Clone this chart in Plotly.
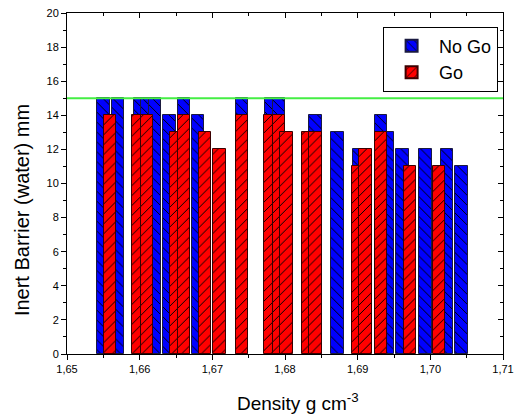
import plotly.graph_objects as go

# Data
nogo_density = [1.6550, 1.6570, 1.6601, 1.6610, 1.6621, 1.6641, 1.6661, 1.6680,
                1.6741, 1.6781, 1.6792, 1.6842, 1.6872, 1.6902, 1.6932, 1.6941,
                1.6962, 1.6993, 1.7023, 1.7043]
nogo_barrier = [15, 15, 15, 15, 15, 14, 15, 14,
                15, 15, 15, 14, 13, 12, 14, 13,
                12, 12, 12, 11]

go_density = [1.6559, 1.6598, 1.6610, 1.6651, 1.6661, 1.6690, 1.6710, 1.6741,
              1.6780, 1.6792, 1.6802, 1.6832, 1.6842, 1.6901, 1.6911, 1.6932,
              1.6972, 1.7012]
go_barrier = [14, 14, 14, 13, 14, 13, 12, 14,
              14, 14, 13, 13, 13, 11, 12, 13,
              11, 11]

limit_value = 15
x_ticks = [1.65, 1.66, 1.67, 1.68, 1.69, 1.70, 1.71]
y_ticks = [0, 2, 4, 6, 8, 10, 12, 14, 16, 18, 20]
x_title = "Density g cm<sup>-3</sup>"
y_title = "Inert Barrier (water) mm"

BAR_W = 0.00172
FONT = "Liberation Sans, Arial, sans-serif"

fig = go.Figure()
fig.add_trace(go.Bar(
    x=nogo_density, y=nogo_barrier, name="No Go", width=BAR_W,
    marker=dict(color="#0000FF", line=dict(color="#1a1a40", width=1),
                pattern=dict(shape="\\", fgcolor="#000000", bgcolor="#0000FF",
                             size=7, solidity=0.14, fillmode="replace")),
))
fig.add_trace(go.Bar(
    x=go_density, y=go_barrier, name="Go", width=BAR_W,
    marker=dict(color="#FF0000", line=dict(color="#3a0000", width=1),
                pattern=dict(shape="/", fgcolor="#000000", bgcolor="#FF0000",
                             size=7, solidity=0.14, fillmode="replace")),
))

fig.add_shape(type="line", xref="paper", x0=0, x1=1, yref="y", y0=limit_value, y1=limit_value,
              line=dict(color="#44ee44", width=2), layer="above")

# axis titles placed as annotations for precise positioning
fig.add_annotation(text=y_title, xref="paper", yref="paper", x=0, y=0.422,
                   xanchor="center", yanchor="middle", xshift=-45, textangle=-90,
                   showarrow=False, font=dict(family=FONT, size=20, color="#000"))
fig.add_annotation(text=x_title, xref="paper", yref="paper", x=0.53, y=-0.142,
                   xanchor="center", yanchor="middle",
                   showarrow=False, font=dict(family=FONT, size=19, color="#000"))

fig.update_layout(
    width=518, height=419,
    margin=dict(l=67, r=15, t=13, b=65),
    paper_bgcolor="white", plot_bgcolor="white",
    barmode="overlay", bargap=0,
    separators=",.",
    showlegend=True,
    legend=dict(x=0.725, y=0.96, xanchor="left", yanchor="top",
                bordercolor="#000000", borderwidth=1, bgcolor="white",
                font=dict(family=FONT, size=18, color="#000"),
                itemsizing="constant", itemwidth=45, tracegroupgap=0),
    font=dict(family=FONT, color="#000"),
    xaxis=dict(range=[1.65, 1.71], tickvals=x_ticks, tickformat=".2f",
               ticks="outside", ticklen=5, tickwidth=1, tickcolor="#000",
               minor=dict(dtick=0.005, tick0=1.65, ticks="outside", ticklen=3, tickcolor="#000"),
               showline=True, linecolor="#000", linewidth=1, mirror=True,
               showgrid=False, zeroline=False, automargin=False,
               ticklabeloverflow="allow",
               tickfont=dict(size=11, family=FONT)),
    xaxis2=dict(range=[1.65, 1.71], overlaying="x", side="top", tickvals=x_ticks,
                ticks="inside", ticklen=5, tickcolor="#000", showticklabels=False,
                minor=dict(dtick=0.005, tick0=1.65, ticks="inside", ticklen=3, tickcolor="#000"),
                showgrid=False, zeroline=False, showline=False, automargin=False),
    yaxis=dict(range=[0, 20], tickvals=y_ticks,
               ticks="outside", ticklen=5, tickwidth=1, tickcolor="#000",
               minor=dict(dtick=1, ticks="outside", ticklen=3, tickcolor="#000"),
               showline=True, linecolor="#000", linewidth=1, mirror=True,
               showgrid=False, zeroline=False, automargin=False,
               ticklabeloverflow="allow",
               tickfont=dict(size=11, family=FONT)),
    yaxis2=dict(range=[0, 20], overlaying="y", side="right", tickvals=y_ticks,
                ticks="inside", ticklen=5, tickcolor="#000", showticklabels=False,
                minor=dict(dtick=1, ticks="inside", ticklen=3, tickcolor="#000"),
                showgrid=False, zeroline=False, showline=False, automargin=False),
)

# invisible trace to activate the mirrored tick axes
fig.add_trace(go.Scatter(x=[1.65], y=[0], xaxis="x2", yaxis="y2", mode="markers",
                         marker=dict(opacity=0), showlegend=False, hoverinfo="skip"))

# remove the default page margin so the figure fills the 518x419 window exactly
fig.write_html("out.html",
               config={"displayModeBar": False},
               post_script="document.body.style.margin='0';document.body.style.overflow='hidden';")
